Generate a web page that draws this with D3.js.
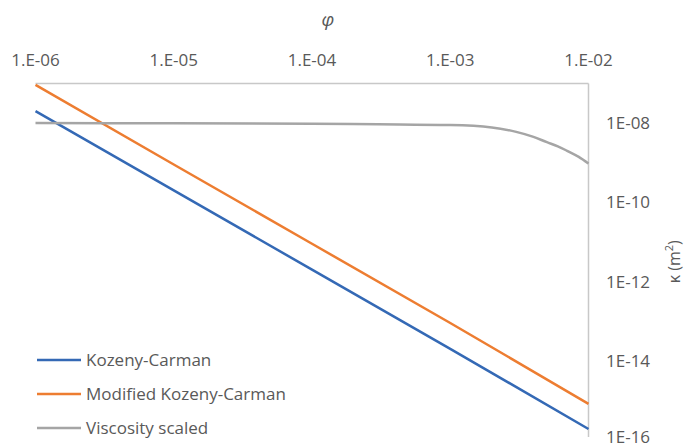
<!DOCTYPE html>
<html>
<head>
<meta charset="utf-8">
<script src="https://cdn.jsdelivr.net/npm/d3@7"></script>
<style>
  body { margin: 0; background: #fff; }
  text { font-family: "Open Sans", sans-serif; fill: #595959; }
</style>
</head>
<body>
<div id="chart"></div>
<script>
// porosity values along the top axis
const phiTicks = [1e-6, 1e-5, 1e-4, 1e-3, 1e-2];
const kTicks = [1e-8, 1e-10, 1e-12, 1e-14, 1e-16];

const seriesNames = ['Kozeny-Carman', 'Modified Kozeny-Carman', 'Viscosity scaled'];
const seriesColors = ['#3469b5', '#ed7d31', '#a5a5a5'];

// straight lines, read at each decade
const phiKC = [1e-6, 1e-5, 1e-4, 1e-3, 1e-2];
const kozenyCarman = [2.0e-8, 2.0e-10, 2.0e-12, 2.0e-14, 1.9e-16];
const modifiedKC = [9.2e-8, 9.0e-10, 9.0e-12, 9.0e-14, 8.2e-16];

// viscosity scaled curve
const phiVisc = [1e-6, 1e-5, 1e-4, 3e-4, 1e-3, 2e-3, 3e-3, 4e-3, 5e-3, 6e-3, 7e-3, 8.5e-3, 1e-2];
const viscScaled = [1.0e-8, 9.9e-9, 9.6e-9, 9.3e-9, 8.9e-9, 7.8e-9, 6.0e-9, 4.5e-9, 3.3e-9, 2.6e-9, 2.0e-9, 1.4e-9, 9.5e-10];

const width = 686;
const height = 448;
const plot = { left: 35.5, right: 588.5, top: 83.5, bottom: 440 };

const svg = d3.select('#chart')
    .append('svg')
    .attr('width', width)
    .attr('height', height);

const x = d3.scaleLog()
    .domain([1e-6, 1e-2])
    .range([plot.left, plot.right]);

const y = d3.scaleLog()
    .domain([1e-7, 1e-16])
    .range([plot.top, plot.bottom]);

// top axis line + labels
svg.append('line')
    .attr('x1', plot.left).attr('x2', plot.right)
    .attr('y1', plot.top).attr('y2', plot.top)
    .attr('stroke', '#c8c8c8').attr('stroke-width', 1.5);

svg.selectAll('.xlab')
    .data(phiTicks)
    .enter().append('text')
    .attr('x', d => x(d))
    .attr('y', 66)
    .attr('text-anchor', 'middle')
    .attr('font-size', 17)
    .text(d => '1.E-' + String(-Math.round(Math.log10(d))).padStart(2, '0'));

svg.append('text')
    .attr('x', 328).attr('y', 26)
    .attr('text-anchor', 'middle')
    .attr('font-size', 19)
    .attr('font-style', 'italic')
    .attr('font-family', 'DejaVu Serif')
    .text('φ');

// right axis line + labels
svg.append('line')
    .attr('x1', plot.right).attr('x2', plot.right)
    .attr('y1', plot.top).attr('y2', 437)
    .attr('stroke', '#c8c8c8').attr('stroke-width', 1.5);

svg.selectAll('.ylab')
    .data(kTicks)
    .enter().append('text')
    .attr('x', 606)
    .attr('y', d => Math.min(y(d) + 6, 443))
    .attr('font-size', 17)
    .text(d => '1E-' + String(-Math.round(Math.log10(d))).padStart(2, '0'));

const klab = svg.append('text')
    .attr('transform', `translate(680, ${(plot.top + plot.bottom) / 2}) rotate(-90)`)
    .attr('text-anchor', 'middle')
    .attr('font-size', 16);
klab.append('tspan').text('κ (m');
klab.append('tspan').attr('dy', -7).attr('font-size', 11).text('2');
klab.append('tspan').attr('dy', 7).text(')');

const line = d3.line()
    .x(d => x(d[0]))
    .y(d => y(d[1]));

const seriesData = [
    d3.zip(phiKC, kozenyCarman),
    d3.zip(phiKC, modifiedKC),
    d3.zip(phiVisc, viscScaled)
];

[0, 1, 2].forEach(i => {
    svg.append('path')
        .datum(seriesData[i])
        .attr('fill', 'none')
        .attr('stroke', seriesColors[i])
        .attr('stroke-width', 2.5)
        .attr('d', line.curve(i === 2 ? d3.curveMonotoneX : d3.curveLinear));
});

// legend
const legend = svg.selectAll('.legend')
    .data(seriesNames)
    .enter().append('g')
    .attr('transform', (d, i) => `translate(37, ${360 + i * 34})`);

legend.append('line')
    .attr('x1', 0).attr('x2', 44)
    .attr('stroke', (d, i) => seriesColors[i])
    .attr('stroke-width', 2.5);

legend.append('text')
    .attr('x', 49)
    .attr('y', 6)
    .attr('font-size', 17)
    .text(d => d);
</script>
</body>
</html>
